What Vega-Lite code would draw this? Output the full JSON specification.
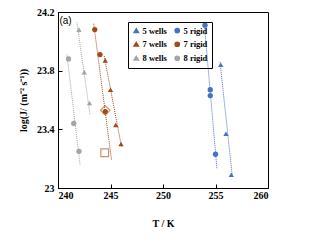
{
  "$schema": "https://vega.github.io/schema/vega-lite/v6.json",
  "width": 210,
  "height": 176,
  "autosize": "none",
  "padding": {"left": 58, "top": 12, "right": 57, "bottom": 56},
  "background": "white",
  "config": {
    "view": {"stroke": "black", "strokeWidth": 1},
    "axis": {"grid": false, "labelFont": "Liberation Serif", "labelFontWeight": "bold", "labelFontSize": 10, "labelColor": "black", "titleFont": "Liberation Serif", "titleFontWeight": "bold", "titleFontSize": 10, "titleColor": "black", "domainColor": "black", "tickColor": "black"},
    "legend": {"orient": "none", "legendX": 70, "legendY": 10, "columns": 2, "columnPadding": 5, "rowPadding": 3, "padding": 4, "strokeColor": "black", "labelFont": "Liberation Serif", "labelFontWeight": "bold", "labelFontSize": 8.5, "labelColor": "black", "symbolSize": 18, "labelOffset": 2}
  },
  "datasets": {
    "pts": [
      {"series": "5 rigid", "T": 254.0, "J": 24.11},
      {"series": "5 rigid", "T": 254.5, "J": 23.67},
      {"series": "5 rigid", "T": 254.5, "J": 23.63},
      {"series": "5 rigid", "T": 255.0, "J": 23.23},
      {"series": "5 wells", "T": 255.5, "J": 23.84},
      {"series": "5 wells", "T": 256.0, "J": 23.37},
      {"series": "5 wells", "T": 256.5, "J": 23.09},
      {"series": "7 rigid", "T": 243.5, "J": 24.08},
      {"series": "7 rigid", "T": 244.0, "J": 23.91},
      {"series": "7 rigid", "T": 244.5, "J": 23.52},
      {"series": "7 wells", "T": 244.5, "J": 23.87},
      {"series": "7 wells", "T": 245.0, "J": 23.67},
      {"series": "7 wells", "T": 245.5, "J": 23.43},
      {"series": "7 wells", "T": 246.0, "J": 23.3},
      {"series": "8 rigid", "T": 241.0, "J": 23.88},
      {"series": "8 rigid", "T": 241.5, "J": 23.44},
      {"series": "8 rigid", "T": 242.0, "J": 23.25},
      {"series": "8 wells", "T": 242.0, "J": 24.08},
      {"series": "8 wells", "T": 242.5, "J": 23.79},
      {"series": "8 wells", "T": 243.0, "J": 23.58}
    ],
    "fits": [
      {"series": "5 rigid", "T": 253.93, "J": 24.12},
      {"series": "5 rigid", "T": 255.14, "J": 23.13},
      {"series": "5 wells", "T": 255.43, "J": 23.86},
      {"series": "5 wells", "T": 256.6, "J": 23.08},
      {"series": "7 rigid", "T": 243.4, "J": 24.12},
      {"series": "7 rigid", "T": 245.1, "J": 23.19},
      {"series": "7 wells", "T": 244.4, "J": 23.9},
      {"series": "7 wells", "T": 246.05, "J": 23.28},
      {"series": "8 rigid", "T": 240.85, "J": 23.91},
      {"series": "8 rigid", "T": 242.1, "J": 23.16},
      {"series": "8 wells", "T": 241.8, "J": 24.13},
      {"series": "8 wells", "T": 243.05, "J": 23.5}
    ],
    "label": [{"T": 240.14, "J": 24.14, "text": "(a)"}],
    "diamond": [{"T": 244.5, "J": 23.53}],
    "square": [{"T": 244.45, "J": 23.24}]
  },
  "layer": [
    {
      "mark": {"type": "rule", "strokeDash": [4, 3], "strokeWidth": 1.5, "color": "#333333"},
      "encoding": {"y": {"datum": 23.6, "type": "quantitative", "scale": {"domain": [23, 24.2], "zero": false}}}
    },
    {
      "data": {"name": "fits"},
      "mark": {"type": "line", "strokeDash": [1, 1], "strokeWidth": 1},
      "encoding": {
        "x": {"field": "T", "type": "quantitative", "scale": {"domain": [240, 260], "zero": false}},
        "y": {"field": "J", "type": "quantitative", "scale": {"domain": [23, 24.2], "zero": false}},
        "detail": {"field": "series"},
        "color": {"field": "series", "type": "nominal"}
      }
    },
    {
      "data": {"name": "pts"},
      "mark": {"type": "point", "filled": true, "size": 28, "opacity": 1},
      "encoding": {
        "x": {"field": "T", "type": "quantitative", "scale": {"domain": [240, 260], "zero": false}, "axis": {"values": [240, 245, 250, 255, 260], "tickSize": -4, "labelPadding": 6, "title": "T / K", "titlePadding": 18}},
        "y": {"field": "J", "type": "quantitative", "scale": {"domain": [23, 24.2], "zero": false}, "axis": {"values": [23, 23.2, 23.4, 23.6, 23.8, 24, 24.2], "format": ".3~r", "tickSize": -4, "labelPadding": 8, "title": "log(J/ (m⁻² s⁻¹))", "titlePadding": 8}},
        "color": {
          "field": "series", "type": "nominal", "title": null,
          "scale": {"domain": ["5 wells", "7 wells", "8 wells", "5 rigid", "7 rigid", "8 rigid"], "range": ["#4472C4", "#A0491A", "#A5A5A5", "#4472C4", "#A0491A", "#A5A5A5"]}
        },
        "shape": {
          "field": "series", "type": "nominal", "title": null,
          "scale": {"domain": ["5 wells", "7 wells", "8 wells", "5 rigid", "7 rigid", "8 rigid"], "range": ["triangle-up", "triangle-up", "triangle-up", "circle", "circle", "circle"]}
        }
      }
    },
    {
      "data": {"name": "diamond"},
      "mark": {"type": "point", "shape": "diamond", "filled": false, "size": 90, "color": "#B5652F", "strokeWidth": 1.2},
      "encoding": {"x": {"field": "T", "type": "quantitative", "scale": {"domain": [240, 260], "zero": false}}, "y": {"field": "J", "type": "quantitative", "scale": {"domain": [23, 24.2], "zero": false}}}
    },
    {
      "data": {"name": "square"},
      "mark": {"type": "point", "shape": "square", "filled": false, "size": 60, "color": "#B5652F", "strokeWidth": 1.2},
      "encoding": {"x": {"field": "T", "type": "quantitative", "scale": {"domain": [240, 260], "zero": false}}, "y": {"field": "J", "type": "quantitative", "scale": {"domain": [23, 24.2], "zero": false}}}
    },
    {
      "data": {"name": "label"},
      "mark": {"type": "text", "align": "left", "baseline": "middle", "font": "Liberation Sans", "fontSize": 10, "color": "black"},
      "encoding": {"x": {"field": "T", "type": "quantitative", "scale": {"domain": [240, 260], "zero": false}}, "y": {"field": "J", "type": "quantitative", "scale": {"domain": [23, 24.2], "zero": false}}, "text": {"field": "text"}}
    }
  ]
}
